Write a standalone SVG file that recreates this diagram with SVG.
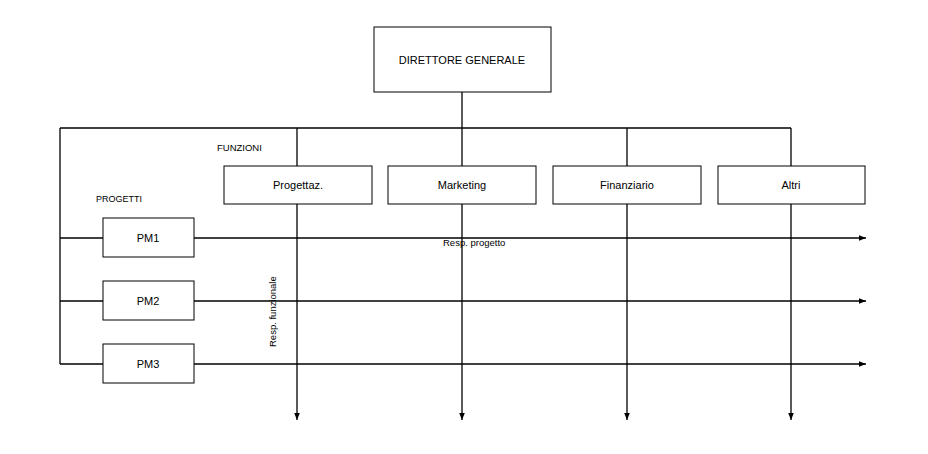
<svg xmlns="http://www.w3.org/2000/svg" width="928" height="454" viewBox="0 0 928 454">
<defs>
<marker id="arr" viewBox="0 0 10 10" refX="10" refY="5" markerWidth="7" markerHeight="7" orient="auto" markerUnits="userSpaceOnUse">
<path d="M0,1 L10,5 L0,9 Z" fill="#000"/>
</marker>
<style>
.box{fill:#fff;stroke:#000;stroke-width:1}
.ln{fill:none;stroke:#000;stroke-width:1.3}
.t{font-family:"Liberation Sans",Arial,sans-serif;font-size:11px;fill:#000;text-anchor:middle;dominant-baseline:central}
.s{font-family:"Liberation Sans",Arial,sans-serif;font-size:9.5px;fill:#000}
</style>
</defs>
<rect width="928" height="454" fill="#fff"/>
<g id="connectors">
<path class="ln" d="M462,92 V128"/>
<path class="ln" d="M60,128 H791"/>
<path class="ln" d="M60,128 V364"/>
<path class="ln" d="M297,128 V420" marker-end="url(#arr)"/>
<path class="ln" d="M462,128 V420" marker-end="url(#arr)"/>
<path class="ln" d="M627,128 V420" marker-end="url(#arr)"/>
<path class="ln" d="M791,128 V420" marker-end="url(#arr)"/>
<path class="ln" d="M60,238 H103"/>
<path class="ln" d="M194,238 H866" marker-end="url(#arr)"/>
<path class="ln" d="M60,301 H103"/>
<path class="ln" d="M194,301 H866" marker-end="url(#arr)"/>
<path class="ln" d="M60,364 H103"/>
<path class="ln" d="M194,364 H866" marker-end="url(#arr)"/>
</g>
<g id="direttore"><rect class="box" x="374" y="27" width="177" height="65"/><text class="t" x="462" y="60">DIRETTORE GENERALE</text></g>
<g id="progettaz"><rect class="box" x="224" y="166" width="148" height="38"/><text class="t" x="298" y="185">Progettaz.</text></g>
<g id="marketing"><rect class="box" x="388" y="166" width="148" height="38"/><text class="t" x="462" y="185">Marketing</text></g>
<g id="finanziario"><rect class="box" x="553" y="166" width="148" height="38"/><text class="t" x="627" y="185">Finanziario</text></g>
<g id="altri"><rect class="box" x="718" y="166" width="147" height="38"/><text class="t" x="791" y="185">Altri</text></g>
<g id="pm1"><rect class="box" x="103" y="218" width="91" height="39"/><text class="t" x="148" y="238">PM1</text></g>
<g id="pm2"><rect class="box" x="103" y="281" width="91" height="39"/><text class="t" x="148" y="301">PM2</text></g>
<g id="pm3"><rect class="box" x="103" y="344" width="91" height="39"/><text class="t" x="148" y="364">PM3</text></g>
<g id="labels">
<text class="s" x="217" y="151">FUNZIONI</text>
<text class="s" x="96" y="202" style="font-size:9px">PROGETTI</text>
<text class="s" x="443" y="246">Resp. progetto</text>
<text class="s" transform="translate(276,347) rotate(-90)">Resp. funzionale</text>
</g>
</svg>
